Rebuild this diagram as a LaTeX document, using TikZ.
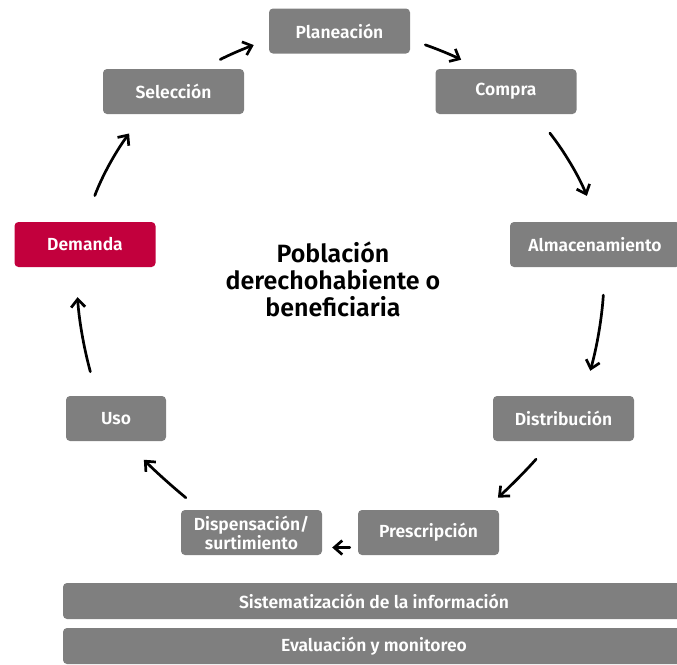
\documentclass[tikz,border=0pt]{standalone}
\usepackage{fontspec}
\setmainfont{Fira Sans}[BoldFont={Fira Sans SemiBold}]
\usetikzlibrary{arrows.meta}
\definecolor{gris}{HTML}{7F7F7F}
\definecolor{carmin}{HTML}{C2003D}

\begin{document}
\begin{tikzpicture}[x=1pt,y=-1pt,
	caja/.style={fill=gris, rounded corners=4pt, minimum width=141pt, minimum height=45pt,
		text=white, align=center, inner sep=0pt, font=\fontsize{17.5}{19}\selectfont\bfseries},
	barra/.style={caja, minimum width=622pt, minimum height=36pt},
	flecha/.style={black, line width=2.7pt, line cap=round, -{Straight Barb[length=8pt,width=14pt]}}]
	\useasboundingbox (0,0) rectangle (677,664);
		\node[caja] (plan) at (339.5,31) {Planeación};
		\node[caja] (sel) at (173.5,91.5) {Selección};
		\node[caja] (comp) at (506,91.5) {Compra};
		\node[caja, fill=carmin] (dem) at (85,244.5) {Demanda};
		\node[caja, minimum width=170pt] (alm) at (595,244.5) {Almacenamiento};
		\node[caja, minimum width=100pt] (uso) at (116,418.5) {Uso};
		\node[caja] (dist) at (563.5,418.5) {Distribución};
		\node[caja] (disp) at (251.5,532.5) {Dispensación/\\surtimiento};
		\node[caja] (presc) at (428.5,532.5) {Prescripción};
		\node[align=center, font=\fontsize{25}{27}\selectfont\bfseries] (pob) at (333,279) {Población\\derechohabiente o\\beneficiaria};
		\node[barra] (sist) at (374,601) {Sistematización de la información};
		\node[barra] (eval) at (374,646) {Evaluación y monitoreo};
	% ciclo
	\draw [flecha, shorten <=20pt, shorten >=16pt] (sel.38) to[bend left=4] (plan.187);
	\draw [flecha, shorten <=16pt, shorten >=20pt] (plan.353) to[bend left=4] (comp.140);
	\draw [flecha, shorten <=24pt, shorten >=28pt] (comp.322) to[bend left=8] (alm.84);
	\draw [flecha, shorten <=28pt, shorten >=26pt] (alm.294) to[bend left=6] (dist.49);
	\draw [flecha, shorten <=24pt, shorten >=18pt] (dist.243) to[bend left=3] (presc.22);
	\draw [flecha, shorten <=8pt, shorten >=10pt] (presc.192) to (disp.348);
	\draw [flecha, shorten <=19pt, shorten >=26pt] (disp.156) to[bend left=3] (uso.293);
	\draw [flecha, shorten <=25pt, shorten >=30pt] (uso.130) to[bend left=6] (dem.248);
	\draw [flecha, shorten <=28pt, shorten >=24pt] (dem.90) to[bend left=8] (sel.217);
\end{tikzpicture}
\end{document}
